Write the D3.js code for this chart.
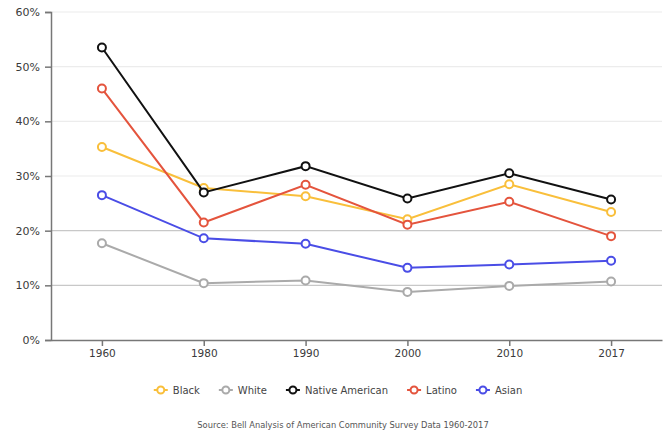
<!DOCTYPE html>
<html>
<head>
<meta charset="utf-8">
<script src="https://cdn.jsdelivr.net/npm/d3@7"></script>
<style>
  html, body { margin: 0; padding: 0; background: #fff; }
  svg { display: block; font-family: "DejaVu Sans", sans-serif; }
</style>
</head>
<body>
<svg id="chart" width="668" height="434"></svg>
<script>
// Years on the x axis
const years = ["1960", "1980", "1990", "2000", "2010", "2017"];

// Share of each group (percent) by year
const black          = [35.3, 27.8, 26.3, 22.1, 28.5, 23.4];
const white          = [17.7, 10.4, 10.9,  8.8,  9.9, 10.7];
const nativeAmerican = [53.5, 27.0, 31.8, 25.9, 30.5, 25.7];
const latino         = [46.0, 21.5, 28.4, 21.1, 25.3, 19.0];
const asian          = [26.5, 18.6, 17.6, 13.2, 13.8, 14.5];

const seriesNames  = ["Black", "White", "Native American", "Latino", "Asian"];
const seriesValues = [black, white, nativeAmerican, latino, asian];
const seriesColors = ["#f9bf3b", "#aaaaaa", "#111111", "#e4543d", "#4a4de6"];

const yTicks = [0, 10, 20, 30, 40, 50, 60];
const sourceNote = "Source: Bell Analysis of American Community Survey Data 1960-2017";

const svg = d3.select("#chart");
const margin = { left: 51, right: 6, top: 12, bottom: 94 };
const W = 668, H = 434;

const x = d3.scalePoint().domain(years).range([margin.left, W - margin.right]).padding(0.5);
const y = d3.scaleLinear().domain([0, 60]).range([H - margin.bottom, margin.top]);

// horizontal gridlines
svg.append("g").selectAll("line").data(yTicks.filter(d => d > 0)).join("line")
  .attr("x1", margin.left).attr("x2", W - margin.right)
  .attr("y1", d => y(d)).attr("y2", d => y(d))
  .attr("stroke", d => d <= 20 ? "#c8c8c8" : "#ececec")
  .attr("stroke-width", 1.2);

// y axis
const yAxis = svg.append("g")
  .attr("transform", `translate(${margin.left},0)`)
  .call(d3.axisLeft(y).tickValues(yTicks).tickFormat(d => d + "%").tickSize(6).tickPadding(5));
yAxis.select(".domain").attr("stroke", "#777").attr("stroke-width", 1.5);
yAxis.selectAll(".tick line").attr("stroke", "#777").attr("stroke-width", 1.5);
yAxis.selectAll("text").attr("fill", "#3a3a3a").style("font-size", "11px").style("font-family", "DejaVu Sans, sans-serif");

// x axis
const xAxis = svg.append("g")
  .attr("transform", `translate(0,${y(0)})`)
  .call(d3.axisBottom(x).tickSize(6).tickPadding(4).tickSizeOuter(0));
xAxis.select(".domain").attr("stroke", "#777").attr("stroke-width", 1.5);
xAxis.selectAll(".tick line").attr("stroke", "#777").attr("stroke-width", 1.5);
xAxis.selectAll("text").attr("fill", "#3a3a3a").style("font-size", "10.5px").style("font-family", "DejaVu Sans, sans-serif");

// series lines and markers
const line = d3.line().x((d, i) => x(years[i])).y(d => y(d));
seriesValues.forEach((vals, k) => {
  const g = svg.append("g");
  g.append("path").datum(vals)
    .attr("d", line).attr("fill", "none")
    .attr("stroke", seriesColors[k]).attr("stroke-width", 2);
  g.selectAll("circle").data(vals).join("circle")
    .attr("cx", (d, i) => x(years[i])).attr("cy", d => y(d))
    .attr("r", 4).attr("fill", "#fff")
    .attr("stroke", seriesColors[k]).attr("stroke-width", 2);
});

// legend
const legend = svg.append("g");
let cursor = 0;
seriesNames.forEach((name, k) => {
  const item = legend.append("g").attr("transform", `translate(${cursor},0)`);
  item.append("line").attr("x1", 0).attr("x2", 14).attr("y1", 0).attr("y2", 0)
    .attr("stroke", seriesColors[k]).attr("stroke-width", 2);
  item.append("circle").attr("cx", 7).attr("cy", 0).attr("r", 3.5)
    .attr("fill", "#fff").attr("stroke", seriesColors[k]).attr("stroke-width", 2);
  const t = item.append("text").attr("x", 19).attr("y", 0).attr("dy", "0.35em")
    .attr("fill", "#444").style("font-size", "10px").text(name);
  cursor += 19 + t.node().getComputedTextLength() + 19;
});
const legendWidth = cursor - 19;
legend.attr("transform", `translate(${338 - legendWidth / 2},390)`);

// source note
svg.append("text").attr("x", 343).attr("y", 428).attr("text-anchor", "middle")
  .attr("fill", "#555").style("font-size", "8.3px").text(sourceNote);
</script>
</body>
</html>
